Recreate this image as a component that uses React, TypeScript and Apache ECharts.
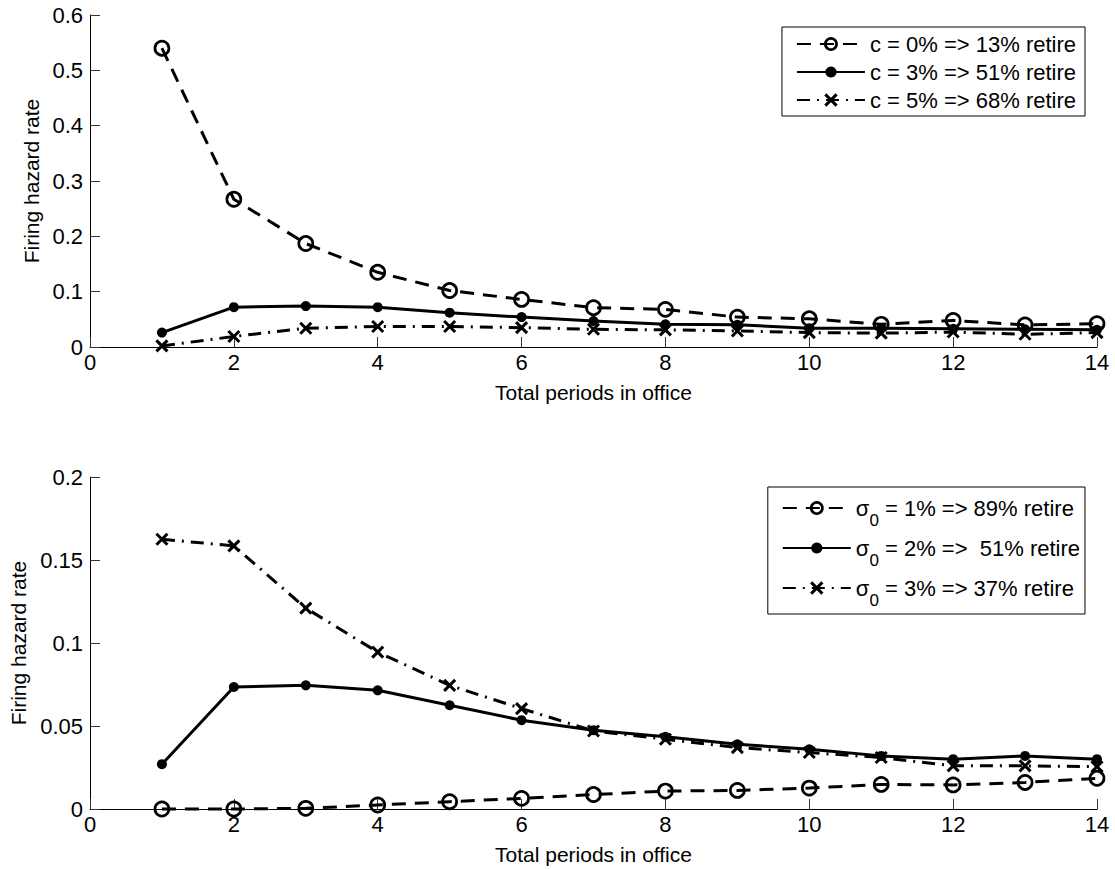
import React, { useEffect, useRef } from 'react';
import * as echarts from 'echarts';

const periods = [1, 2, 3, 4, 5, 6, 7, 8, 9, 10, 11, 12, 13, 14];

// Top panel: cost c
const topNames = ['c = 0% => 13% retire', 'c = 3% => 51% retire', 'c = 5% => 68% retire'];
const c0 = [0.540, 0.267, 0.187, 0.135, 0.102, 0.086, 0.071, 0.068, 0.054, 0.051, 0.041, 0.048, 0.040, 0.042];
const c3 = [0.026, 0.072, 0.074, 0.072, 0.062, 0.054, 0.047, 0.041, 0.040, 0.034, 0.034, 0.033, 0.032, 0.031];
const c5 = [0.002, 0.019, 0.034, 0.037, 0.037, 0.035, 0.032, 0.031, 0.029, 0.026, 0.025, 0.027, 0.023, 0.026];

// Bottom panel: sigma_0
const bottomNames = ['σ0 = 1% => 89% retire', 'σ0 = 2% =>  51% retire', 'σ0 = 3% => 37% retire'];
const s1 = [0.0, 0.0, 0.0004, 0.0024, 0.0044, 0.0064, 0.0087, 0.0108, 0.0112, 0.0126, 0.0148, 0.0145, 0.016, 0.0185];
const s2 = [0.027, 0.0735, 0.0745, 0.0715, 0.0625, 0.0535, 0.0475, 0.0435, 0.039, 0.036, 0.032, 0.030, 0.032, 0.030];
const s3 = [0.1625, 0.1585, 0.121, 0.0945, 0.0745, 0.0605, 0.047, 0.042, 0.037, 0.034, 0.031, 0.026, 0.026, 0.0255];

const xTicks = { min: 0, max: 14, interval: 2 };
const yTopTicks = { min: 0, max: 0.6, interval: 0.1 };
const yBottomTicks = { min: 0, max: 0.2, interval: 0.05 };

const FONT = '"Liberation Sans", Arial, Helvetica, sans-serif';
const CROSS = 'path://M0,0L10,10M10,0L0,10';
const kinds: Kind[] = ['circleDash', 'dotSolid', 'crossDashDot'];

type Kind = 'circleDash' | 'dotSolid' | 'crossDashDot';

const markerStroke = 2.7;

function makeSeries(name: string, vals: number[], idx: number, kind: Kind) {
  const data = periods.map((p, i) => [p, vals[i]]);
  const base: any = {
    name,
    type: 'line',
    xAxisIndex: idx,
    yAxisIndex: idx,
    data,
    clip: false,
    silent: true,
  };
  if (kind === 'circleDash') {
    return {
      ...base,
      symbol: 'circle',
      symbolSize: 14,
      lineStyle: { color: '#000', width: 3, type: [14, 9] },
      itemStyle: { color: 'rgba(0,0,0,0)', borderColor: '#000', borderWidth: markerStroke },
      z: 3,
    };
  }
  if (kind === 'dotSolid') {
    return {
      ...base,
      symbol: 'circle',
      symbolSize: 10,
      lineStyle: { color: '#000', width: 3, type: 'solid' },
      itemStyle: { color: '#000' },
      z: 2,
    };
  }
  return {
    ...base,
    symbol: CROSS,
    symbolSize: 11,
    lineStyle: { color: '#000', width: 3, type: [13, 7, 2, 7] },
    itemStyle: { color: '#000', borderColor: '#000', borderWidth: 3 },
    z: 1,
  };
}

function legendData(names: string[]) {
  return names.map((n, i) => {
    const k = kinds[i];
    if (k === 'circleDash') {
      return { name: n, itemStyle: { color: 'rgba(0,0,0,0)', borderColor: '#000', borderWidth: markerStroke } };
    }
    if (k === 'crossDashDot') {
      return { name: n, itemStyle: { color: '#000', borderColor: '#000', borderWidth: 3 } };
    }
    return { name: n, itemStyle: { color: '#000', borderWidth: 0 } };
  });
}

function xAxisFor(i: number) {
  return {
    type: 'value',
    gridIndex: i,
    ...xTicks,
    name: 'Total periods in office',
    nameLocation: 'middle',
    nameGap: 35,
    nameTextStyle: { fontSize: 21, color: '#000', fontFamily: FONT },
    axisLine: { show: true, onZero: false, lineStyle: { color: '#000', width: 1 } },
    axisTick: { show: true, inside: true, length: 10, lineStyle: { color: '#333', width: 1 } },
    axisLabel: { fontSize: 22, color: '#000', margin: 4, fontFamily: FONT },
    splitLine: { show: false },
  };
}

function yAxisFor(i: number, ticks: any, gap: number) {
  return {
    type: 'value',
    gridIndex: i,
    ...ticks,
    name: 'Firing hazard rate',
    nameLocation: 'middle',
    nameGap: gap,
    nameRotate: 90,
    nameTextStyle: { fontSize: 21, color: '#000', fontFamily: FONT },
    axisLine: { show: true, onZero: false, lineStyle: { color: '#000', width: 1 } },
    axisTick: { show: true, inside: true, length: 10, lineStyle: { color: '#333', width: 1 } },
    axisLabel: { fontSize: 22, color: '#000', margin: 7, fontFamily: FONT },
    splitLine: { show: false },
  };
}

export default function App() {
  const ref = useRef<HTMLDivElement>(null);
  useEffect(() => {
    if (!ref.current) return;
    const chart = echarts.init(ref.current, null, { renderer: 'svg' });
    const option: any = {
      animation: false,
      backgroundColor: '#fff',
      textStyle: { fontFamily: FONT },
      grid: [
        { left: 90, top: 15, width: 1007, height: 332, outerBoundsMode: 'none', containLabel: false },
        { left: 90, top: 477, width: 1007, height: 332, outerBoundsMode: 'none', containLabel: false },
      ],
      xAxis: [xAxisFor(0), xAxisFor(1)],
      yAxis: [yAxisFor(0, yTopTicks, 47), yAxisFor(1, yBottomTicks, 60)],
      legend: [
        {
          orient: 'vertical',
          right: 30,
          top: 27,
          data: legendData(topNames),
          itemWidth: 68,
          itemHeight: 14,
          itemGap: 4,
          padding: [5, 9, 4, 14],
          borderColor: '#000',
          borderWidth: 1,
          backgroundColor: '#fff',
          selectedMode: false,
          textStyle: { fontSize: 22, color: '#000', fontFamily: FONT, lineHeight: 24 },
        },
        {
          orient: 'vertical',
          right: 30,
          top: 487,
          data: legendData(bottomNames),
          itemWidth: 68,
          itemHeight: 14,
          itemGap: -2,
          padding: [0, 5, 5, 14],
          borderColor: '#000',
          borderWidth: 1,
          backgroundColor: '#fff',
          selectedMode: false,
          formatter: (name: string) => {
            const rest = name.slice(2);
            return '{m|σ}{s|0}{m|' + rest + '}';
          },
          textStyle: {
            fontSize: 22,
            color: '#000',
            fontFamily: FONT,
            rich: {
              m: { fontSize: 22, color: '#000', fontFamily: FONT },
              s: { fontSize: 17, color: '#000', fontFamily: FONT, lineHeight: 17, padding: [25, 0, 0, 0] },
            },
          },
        },
      ],
      series: [
        makeSeries(topNames[0], c0, 0, 'circleDash'),
        makeSeries(topNames[1], c3, 0, 'dotSolid'),
        makeSeries(topNames[2], c5, 0, 'crossDashDot'),
        makeSeries(bottomNames[0], s1, 1, 'circleDash'),
        makeSeries(bottomNames[1], s2, 1, 'dotSolid'),
        makeSeries(bottomNames[2], s3, 1, 'crossDashDot'),
      ],
    };
    chart.setOption(option);
    return () => chart.dispose();
  }, []);
  return (
    <div
      ref={ref}
      style={{ position: 'fixed', left: 0, top: 0, width: 1115, height: 869, background: '#fff' }}
    />
  );
}
